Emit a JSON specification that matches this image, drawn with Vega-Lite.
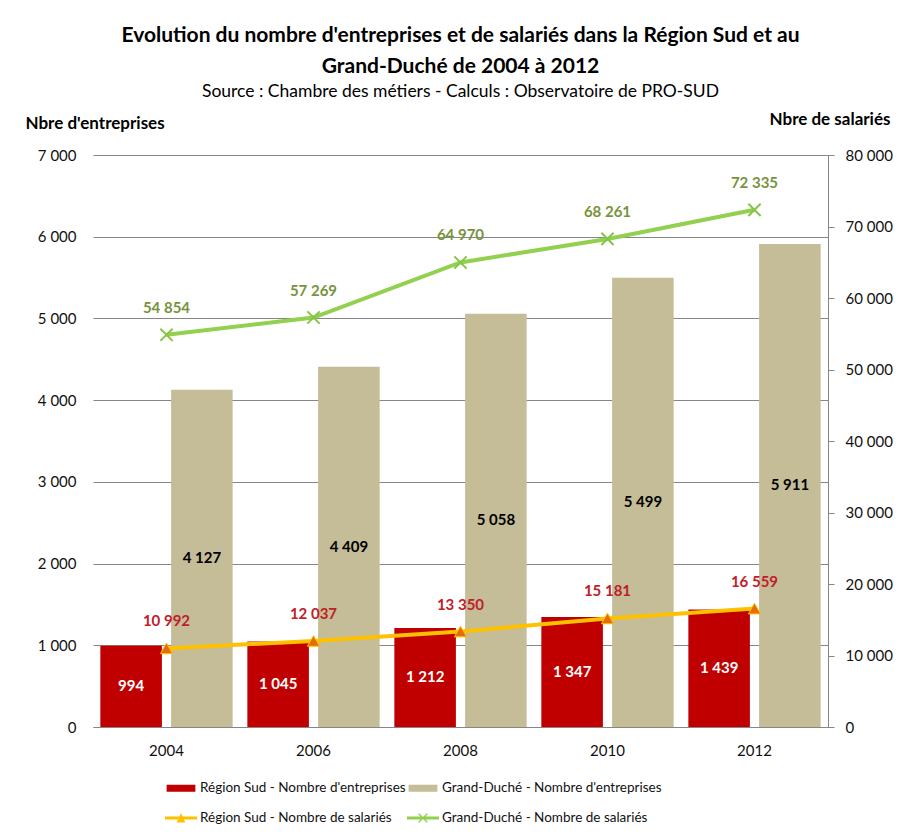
{
  "$schema": "https://vega.github.io/schema/vega-lite/v6.json",
  "width": 735,
  "height": 572,
  "padding": {"left": 25, "top": 24, "right": 5, "bottom": 5},
  "background": "white",
  "config": {
    "font": "Lato",
    "view": {"stroke": null},
    "locale": {"number": {"decimal": ",", "thousands": " ", "grouping": [3], "currency": ["", " €"]}},
    "axis": {"labelFont": "Lato", "labelFontSize": 15, "labelColor": "#111111", "titleFont": "Lato"}
  },
  "title": {
    "text": ["Evolution du nombre d'entreprises et de salariés dans la Région Sud et au", "Grand-Duché de 2004 à 2012"],
    "subtitle": "Source : Chambre des métiers - Calculs : Observatoire de PRO-SUD",
    "font": "Lato",
    "fontSize": 21,
    "fontWeight": "bold",
    "color": "#000000",
    "lineHeight": 31,
    "subtitleFont": "Lato",
    "subtitleFontSize": 17.5,
    "subtitleColor": "#000000",
    "subtitlePadding": 6,
    "anchor": "middle",
    "offset": 10
  },
  "datasets": {
    "ent": [
      {"annee": "2004", "serie": "Région Sud - Nombre d'entreprises", "v": 994},
      {"annee": "2004", "serie": "Grand-Duché - Nombre d'entreprises", "v": 4127},
      {"annee": "2006", "serie": "Région Sud - Nombre d'entreprises", "v": 1045},
      {"annee": "2006", "serie": "Grand-Duché - Nombre d'entreprises", "v": 4409},
      {"annee": "2008", "serie": "Région Sud - Nombre d'entreprises", "v": 1212},
      {"annee": "2008", "serie": "Grand-Duché - Nombre d'entreprises", "v": 5058},
      {"annee": "2010", "serie": "Région Sud - Nombre d'entreprises", "v": 1347},
      {"annee": "2010", "serie": "Grand-Duché - Nombre d'entreprises", "v": 5499},
      {"annee": "2012", "serie": "Région Sud - Nombre d'entreprises", "v": 1439},
      {"annee": "2012", "serie": "Grand-Duché - Nombre d'entreprises", "v": 5911}
    ],
    "sal": [
      {"annee": "2004", "region": "RS", "serie": "Région Sud - Nombre de salariés", "v": 10992},
      {"annee": "2006", "region": "RS", "serie": "Région Sud - Nombre de salariés", "v": 12037},
      {"annee": "2008", "region": "RS", "serie": "Région Sud - Nombre de salariés", "v": 13350},
      {"annee": "2010", "region": "RS", "serie": "Région Sud - Nombre de salariés", "v": 15181},
      {"annee": "2012", "region": "RS", "serie": "Région Sud - Nombre de salariés", "v": 16559},
      {"annee": "2004", "region": "GD", "serie": "Grand-Duché - Nombre de salariés", "v": 54854},
      {"annee": "2006", "region": "GD", "serie": "Grand-Duché - Nombre de salariés", "v": 57269},
      {"annee": "2008", "region": "GD", "serie": "Grand-Duché - Nombre de salariés", "v": 64970},
      {"annee": "2010", "region": "GD", "serie": "Grand-Duché - Nombre de salariés", "v": 68261},
      {"annee": "2012", "region": "GD", "serie": "Grand-Duché - Nombre de salariés", "v": 72335}
    ]
  },
  "encoding": {
    "x": {
      "field": "annee", "type": "nominal",
      "scale": {"paddingInner": 0.1, "paddingOuter": 0.05},
      "axis": {"title": null, "labelAngle": 0, "ticks": false, "domain": true, "domainColor": "#868686", "domainWidth": 1, "labelPadding": 16, "grid": false}
    }
  },
  "layer": [
    {
      "data": {"name": "ent"},
      "layer": [
        {
          "mark": {"type": "bar"},
          "encoding": {
            "xOffset": {"field": "serie", "type": "nominal", "sort": null, "scale": {"paddingInner": 0.13, "paddingOuter": 0}},
            "y": {
              "field": "v", "type": "quantitative",
              "scale": {"domain": [0, 7000]},
              "axis": {
                "title": "Nbre d'entreprises", "titleAngle": 0, "titleAlign": "left", "titleBaseline": "alphabetic",
                "titleX": -68, "titleY": -27, "titleFontSize": 17, "titleFontWeight": "bold", "titleColor": "#000000",
                "values": [0, 1000, 2000, 3000, 4000, 5000, 6000, 7000], "format": ",d",
                "domain": false, "ticks": false, "labelPadding": 17,
                "grid": true, "gridColor": "#868686", "gridWidth": 1
              }
            },
            "color": {
              "field": "serie", "type": "nominal",
              "scale": {
                "domain": ["Région Sud - Nombre d'entreprises", "Grand-Duché - Nombre d'entreprises", "Région Sud - Nombre de salariés", "Grand-Duché - Nombre de salariés"],
                "range": ["#C00000", "#C4BD97", "#FFC000", "#92D050"]
              },
              "legend": {
                "title": null, "orient": "none", "legendX": 72, "legendY": 617,
                "columns": 2, "direction": "horizontal", "columnPadding": 1, "rowPadding": 7,
                "labelFont": "Lato", "labelFontSize": 13.5, "labelColor": "#111111", "labelOffset": 3, "labelLimit": 400,
                "symbolSize": 1024,
                "encode": {
                  "symbols": {
                    "update": {
                      "shape": {"signal": "indexof(datum.value, 'salari') < 0 ? 'M-0.9,-0.22H0.9V0.22H-0.9Z' : (indexof(datum.value, 'Région') >= 0 ? 'M-1,-0.1H1V0.1H-1Z M-0.27,0.28L0,-0.32L0.27,0.28Z' : 'M-1,-0.1H1V0.1H-1Z M-0.3,-0.24L-0.24,-0.3L0.3,0.24L0.24,0.3Z M0.24,-0.3L0.3,-0.24L-0.24,0.3L-0.3,0.24Z')"},
                      "fill": {"scale": "color", "field": "value"},
                      "stroke": {"value": "transparent"},
                      "strokeWidth": {"value": 0},
                      "size": {"value": 1024},
                      "opacity": {"value": 1}
                    }
                  }
                }
              }
            }
          }
        },
        {
          "transform": [{"calculate": "datum.v / 2", "as": "mid"}],
          "mark": {"type": "text", "fontWeight": "bold", "fontSize": 15, "font": "Lato", "baseline": "middle"},
          "encoding": {
            "xOffset": {"field": "serie", "type": "nominal", "sort": null},
            "y": {"field": "mid", "type": "quantitative"},
            "text": {"field": "v", "type": "quantitative", "format": ","},
            "color": {
              "condition": {"test": "indexof(datum.serie, 'Région') >= 0", "value": "#FFFFFF"},
              "value": "#000000"
            }
          }
        }
      ]
    },
    {
      "data": {"name": "sal"},
      "layer": [
        {
          "mark": {"type": "line", "strokeWidth": 4},
          "encoding": {
            "y": {
              "field": "v", "type": "quantitative",
              "scale": {"domain": [0, 80000]},
              "axis": {
                "orient": "right",
                "title": "Nbre de salariés", "titleAngle": 0, "titleAlign": "right", "titleBaseline": "alphabetic",
                "titleX": 62, "titleY": -31, "titleFontSize": 17, "titleFontWeight": "bold", "titleColor": "#000000",
                "values": [0, 10000, 20000, 30000, 40000, 50000, 60000, 70000, 80000], "format": ",d",
                "domain": true, "domainColor": "#868686", "ticks": true, "tickColor": "#868686", "tickSize": 6,
                "labelPadding": 11, "grid": false
              }
            },
            "color": {"field": "serie", "type": "nominal"},
            "detail": {"field": "serie"}
          }
        },
        {
          "transform": [{"filter": "datum.region == 'RS'"}],
          "mark": {"type": "point", "shape": "triangle-up", "filled": true, "size": 150, "color": "#E46C0A", "opacity": 1, "stroke": "#FFC000", "strokeWidth": 1},
          "encoding": {"y": {"field": "v", "type": "quantitative"}}
        },
        {
          "transform": [{"filter": "datum.region == 'GD'"}],
          "mark": {"type": "point", "shape": "M-1,-1L1,1M1,-1L-1,1", "filled": false, "size": 150, "color": "#86C446", "opacity": 1, "strokeWidth": 2},
          "encoding": {"y": {"field": "v", "type": "quantitative"}}
        },
        {
          "mark": {"type": "text", "fontWeight": "bold", "fontSize": 15, "font": "Lato", "baseline": "alphabetic"},
          "encoding": {
            "y": {"field": "v", "type": "quantitative"},
            "text": {"field": "v", "type": "quantitative", "format": ","},
            "yOffset": {"condition": {"test": "datum.region == 'RS'", "value": -20}, "value": -22},
            "color": {
              "condition": {"test": "datum.region == 'RS'", "value": "#C0202A"},
              "value": "#77933C"
            }
          }
        }
      ]
    }
  ],
  "resolve": {"scale": {"y": "independent"}}
}
